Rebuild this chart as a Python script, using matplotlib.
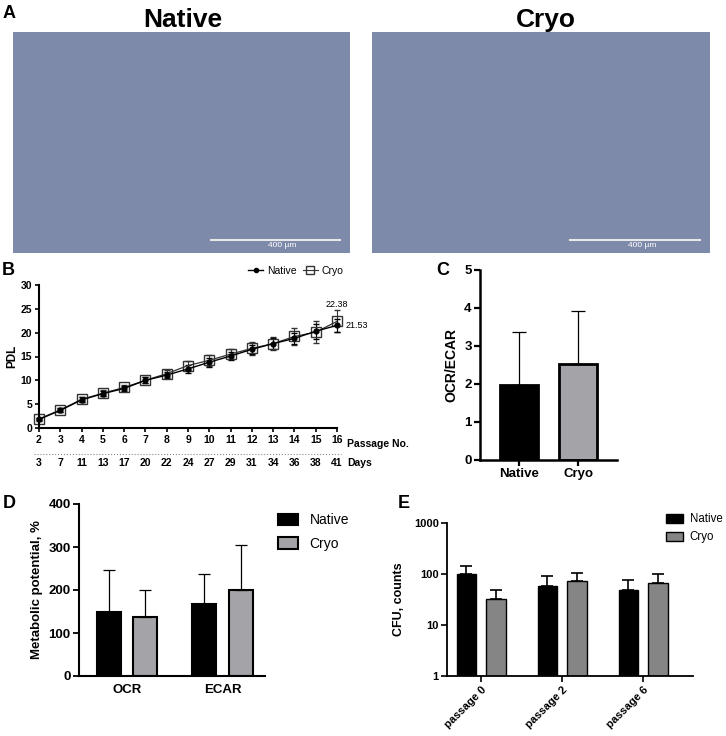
import numpy as np
import matplotlib
matplotlib.use("Agg")
import matplotlib.pyplot as plt
from matplotlib.lines import Line2D

plt.rcParams["font.family"] = ["Liberation Sans", "DejaVu Sans"]

# ---- data ----
passage = [2, 3, 4, 5, 6, 7, 8, 9, 10, 11, 12, 13, 14, 15, 16]
days = [3, 7, 11, 13, 17, 20, 22, 24, 27, 29, 31, 34, 36, 38, 41]
pdl_native = [1.8, 3.7, 5.9, 7.2, 8.3, 10.0, 11.1, 12.4, 13.8, 15.1, 16.5, 17.7, 18.8, 20.3, 21.53]
pdl_native_err = [0.3, 0.4, 0.5, 0.5, 0.6, 0.6, 0.7, 0.9, 0.9, 0.8, 1.0, 1.1, 1.2, 1.6, 1.3]
pdl_cryo = [1.9, 3.8, 6.0, 7.3, 8.5, 10.0, 11.4, 13.1, 14.2, 15.5, 16.7, 17.7, 19.2, 20.1, 22.38]
pdl_cryo_err = [0.3, 0.4, 0.5, 0.6, 0.6, 0.6, 0.8, 1.0, 1.1, 1.0, 1.3, 1.3, 1.7, 2.3, 2.3]

ratio_groups = ["Native", "Cryo"]
ratio_mean = [1.97, 2.53]
ratio_err = [1.41, 1.39]

metab_groups = ["OCR", "ECAR"]
metab_native = [148, 168]
metab_native_err = [99, 70]
metab_cryo = [137, 200]
metab_cryo_err = [63, 105]

cfu_groups = ["passage 0", "passage 2", "passage 6"]
cfu_native = [100, 57, 49]
cfu_native_err = [45, 33, 26]
cfu_cryo = [33, 73, 68]
cfu_cryo_err = [16, 32, 32]

W, H = 726, 736
fig = plt.figure(figsize=(W / 100, H / 100), dpi=100)


def box(x0, y0, x1, y1):
    # pixel box (top-left origin) -> figure axes
    return fig.add_axes([x0 / W, 1 - y1 / H, (x1 - x0) / W, (y1 - y0) / H])


def label(x, y, s, **kw):
    fig.text(x / W, 1 - y / H, s, **kw)


bold = dict(fontweight="bold")

# ---- A: micrographs (placeholders) ----
for (x0, x1, title, tx) in [(13, 350, "Native", 183), (372, 710, "Cryo", 546)]:
    ax = box(x0, 32, x1, 253)
    ax.set_facecolor("#7d8aa9")
    ax.set_xticks([])
    ax.set_yticks([])
    for s in ax.spines.values():
        s.set_visible(False)
    ax.plot([0.587, 0.97], [0.06, 0.06], color="#e8e8e8", lw=1.5, transform=ax.transAxes)
    ax.text(0.80, 0.035, "400 µm", color="white", fontsize=6, ha="center", va="center",
            transform=ax.transAxes)
    label(tx, 20, title, fontsize=19, ha="center", va="center", **bold)

label(3, 13, "A", fontsize=13, va="center", **bold)
label(2, 271, "B", fontsize=13, va="center", **bold)
label(436, 271, "C", fontsize=13, va="center", **bold)
label(3, 503, "D", fontsize=13, va="center", **bold)
label(398, 503, "E", fontsize=13, va="center", **bold)

# ---- B: PDL curve ----
ax = box(39, 285, 337, 428)
ax.errorbar(passage, pdl_cryo, yerr=pdl_cryo_err, fmt="-s", color="#333333", mfc="none",
            mec="#333333", ms=7, lw=0.9, elinewidth=0.8, capsize=2, clip_on=False, label="Cryo")
ax.errorbar(passage, pdl_native, yerr=pdl_native_err, fmt="-o", color="black", ms=3.5,
            lw=1.0, elinewidth=0.8, capsize=2, clip_on=False, label="Native")
ax.set_xlim(2, 16)
ax.set_ylim(0, 30)
ax.set_xticks(passage)
ax.set_yticks([0, 5, 10, 15, 20, 25, 30])
ax.set_ylabel("PDL", fontsize=8.5, labelpad=2, **bold)
for s in ["top", "right"]:
    ax.spines[s].set_visible(False)
for s in ["left", "bottom"]:
    ax.spines[s].set_linewidth(1.5)
ax.tick_params(width=1.2, length=3, labelsize=7.5, pad=2)
for t in ax.get_xticklabels() + ax.get_yticklabels():
    t.set_fontweight("bold")
ax.text(16, 26.0, "%.2f" % pdl_cryo[-1], fontsize=6.5, ha="center", va="center")
ax.text(16.4, pdl_native[-1], "%.2f" % pdl_native[-1], fontsize=6.5, ha="left", va="center")
tr = ax.get_xaxis_transform()
ax.text(1.035, -0.112, "Passage No.", transform=ax.transAxes, fontsize=7.5, va="center", **bold)
ax.plot([1.77, 16.2], [-0.18, -0.18], transform=tr, color="#888888", lw=0.8, ls=":",
        clip_on=False)
for p, d in zip(passage, days):
    ax.text(p, -0.245, str(d), transform=tr, fontsize=7.5, ha="center", va="center", **bold)
ax.text(1.035, -0.245, "Days", transform=ax.transAxes, fontsize=7.5, va="center", **bold)
handles = [Line2D([], [], color="black", marker="o", ms=3, lw=1),
           Line2D([], [], color="#333333", marker="s", mfc="none", ms=6, lw=0.8)]
fig.legend(handles, ["Native", "Cryo"], loc="center", bbox_to_anchor=(296 / W, 1 - 271 / H),
           ncol=2, frameon=False, fontsize=7.5, handlelength=1.4, columnspacing=0.6,
           handletextpad=0.4)

# ---- C: OCR/ECAR ----
ax = box(480, 270, 617, 460)
xc = np.arange(len(ratio_groups))
ax.bar(xc, ratio_mean, width=0.64, color=["black", "#a3a3a8"], edgecolor="black", linewidth=2)
ax.errorbar(xc, ratio_mean, yerr=[[0, 0], ratio_err], fmt="none", ecolor="black",
            elinewidth=0.9, capsize=5, capthick=0.9)
ax.set_xlim(-0.66, 1.66)
ax.set_ylim(0, 5)
ax.set_xticks(xc)
ax.set_xticklabels(ratio_groups)
ax.set_ylabel("OCR/ECAR", fontsize=10, labelpad=4, **bold)
for s in ["top", "right"]:
    ax.spines[s].set_visible(False)
for s in ["left", "bottom"]:
    ax.spines[s].set_linewidth(1.8)
ax.tick_params(width=1.6, length=4, labelsize=9.5, pad=2)
for t in ax.get_xticklabels() + ax.get_yticklabels():
    t.set_fontweight("bold")

# ---- D: metabolic potential ----
ax = box(79, 504, 265, 676)
xd = np.arange(len(metab_groups))
off = 0.19
bw = 0.25
ax.bar(xd - off, metab_native, width=bw, color="black", edgecolor="black", linewidth=1.5,
       label="Native")
ax.bar(xd + off, metab_cryo, width=bw, color="#a3a3a8", edgecolor="black", linewidth=1.5,
       label="Cryo")
ax.errorbar(xd - off, metab_native, yerr=[[0, 0], metab_native_err], fmt="none", ecolor="black",
            elinewidth=0.9, capsize=4, capthick=0.9)
ax.errorbar(xd + off, metab_cryo, yerr=[[0, 0], metab_cryo_err], fmt="none", ecolor="black",
            elinewidth=0.9, capsize=4, capthick=0.9)
ax.set_xlim(-0.503, 1.445)
ax.set_ylim(0, 400)
ax.set_yticks([0, 100, 200, 300, 400])
ax.set_xticks(xd)
ax.set_xticklabels(metab_groups)
ax.set_ylabel("Metabolic potential, %", fontsize=9.5, labelpad=4, **bold)
for s in ["top", "right"]:
    ax.spines[s].set_visible(False)
for s in ["left", "bottom"]:
    ax.spines[s].set_linewidth(1.5)
ax.tick_params(axis="y", width=1.3, length=4, labelsize=9.5, pad=2)
ax.tick_params(axis="x", length=0, labelsize=9.5, pad=6)
for t in ax.get_xticklabels() + ax.get_yticklabels():
    t.set_fontweight("bold")
ax.legend(loc="upper left", bbox_to_anchor=(1.0, 1.02), frameon=False, fontsize=10,
          handlelength=1.5, handleheight=0.9, labelspacing=0.7, handletextpad=0.8)

# ---- E: CFU ----
ax = box(447, 523, 693, 676)
xe = np.arange(len(cfu_groups))
off = 0.185
bw = 0.235
ax.bar(xe - off, np.array(cfu_native) - 1, bottom=1, width=bw, color="black", edgecolor="black",
       linewidth=1, label="Native")
ax.bar(xe + off, np.array(cfu_cryo) - 1, bottom=1, width=bw, color="#858585", edgecolor="black",
       linewidth=1, label="Cryo")
ax.errorbar(xe - off, cfu_native, yerr=[[0] * 3, cfu_native_err], fmt="none", ecolor="black",
            elinewidth=1.2, capsize=4, capthick=1.2)
ax.errorbar(xe + off, cfu_cryo, yerr=[[0] * 3, cfu_cryo_err], fmt="none", ecolor="black",
            elinewidth=1.2, capsize=4, capthick=1.2)
ax.set_yscale("log")
ax.set_ylim(1, 1000)
ax.set_yticks([1, 10, 100, 1000])
ax.set_yticklabels(["1", "10", "100", "1000"])
ax.minorticks_off()
ax.set_xlim(-0.42, 2.617)
ax.set_xticks(xe)
ax.set_xticklabels(cfu_groups, rotation=45, ha="right", rotation_mode="anchor")
ax.set_ylabel("CFU, counts", fontsize=9, labelpad=6, **bold)
for s in ["top", "right"]:
    ax.spines[s].set_visible(False)
for s in ["left", "bottom"]:
    ax.spines[s].set_linewidth(1.3)
ax.tick_params(width=1.2, length=4, labelsize=8, pad=2)
for t in ax.get_xticklabels() + ax.get_yticklabels():
    t.set_fontweight("bold")
ax.legend(loc="upper left", bbox_to_anchor=(0.85, 1.13), frameon=False, fontsize=8.3,
          handlelength=1.4, handleheight=0.8, labelspacing=0.5, handletextpad=0.6)

fig.savefig("out.png", dpi=100)
